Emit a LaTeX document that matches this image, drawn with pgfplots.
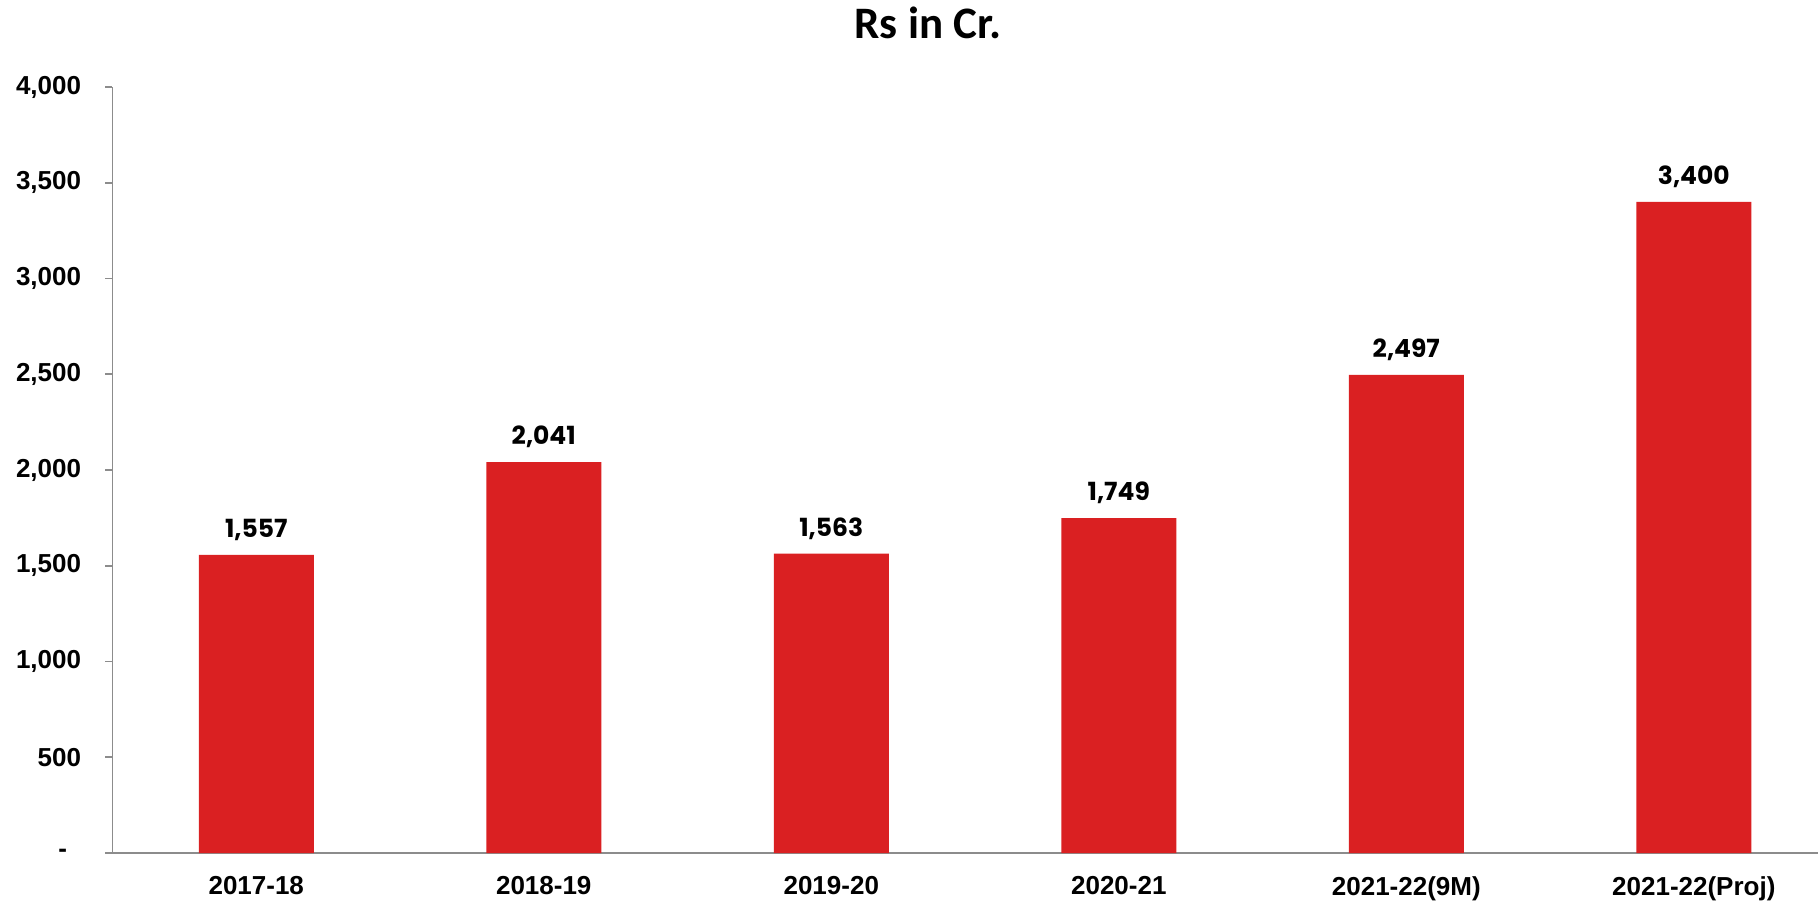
\documentclass[border=0pt]{standalone}
\usepackage{fontspec}
\setmainfont{Liberation Sans}
\newfontfamily\pop{Poppins}
\newfontfamily\carl{Carlito}
\usepackage{pgfplots}
\pgfplotsset{compat=1.18}
\definecolor{barred}{HTML}{DA2022}
\definecolor{axgray}{HTML}{8C8C8C}
\begin{document}
\begin{tikzpicture}
\useasboundingbox (-56.25pt,-24pt) rectangle (852.75pt,426.5pt);
\begin{axis}[
  scale only axis,
  width=852.75pt, height=383pt,
  xmin=-0.5, xmax=5.432,
  ymin=0, ymax=4000,
  axis lines*=left,
  axis line style={axgray, line width=0.8pt},
  every tick/.style={axgray, line width=0.8pt},
  tick align=outside,
  major tick length=3.5pt,
  xtick={0,1,2,3,4,5},
  xticklabels={2017-18,2018-19,2019-20,2020-21,2021-22(9M),2021-22(Proj)},
  x tick style={draw=none},
  extra x ticks={-0.5,0.5,1.5,2.5,3.5,4.5},
  extra x tick labels={},
  extra x tick style={tick style={axgray, line width=0.8pt}, major tick length=3.5pt},
  ytick={0,500,1000,1500,2000,2500,3000,3500,4000},
  yticklabels={{-\rule{7pt}{0pt}},500,{1,000},{1,500},{2,000},{2,500},{3,000},{3,500},{4,000}},
  ticklabel style={font=\fontsize{13pt}{15pt}\selectfont\bfseries, text=black},
  yticklabel style={anchor=east, inner sep=0pt, xshift=-12pt},
  xticklabel style={anchor=north, inner sep=0pt, yshift=-8pt},
  /pgf/number format/assume math mode=true,
  /pgf/number format/1000 sep={,},
  nodes near coords,
  every node near coord/.append style={font=\pop\fontsize{12.5pt}{14pt}\selectfont\bfseries, text=black, anchor=south, inner sep=0pt, yshift=7pt},
  clip=false,
]
\addplot[ybar, bar width=57.5pt, fill=barred, draw=none] coordinates {
  (0,1557) (1,2041) (2,1563) (3,1749) (4,2497) (5,3400)
};
\end{axis}
\node[anchor=base, font=\carl\fontsize{22.5pt}{26pt}\selectfont\bfseries] at (407.75pt,407pt) {Rs in Cr.};
\end{tikzpicture}
\end{document}
